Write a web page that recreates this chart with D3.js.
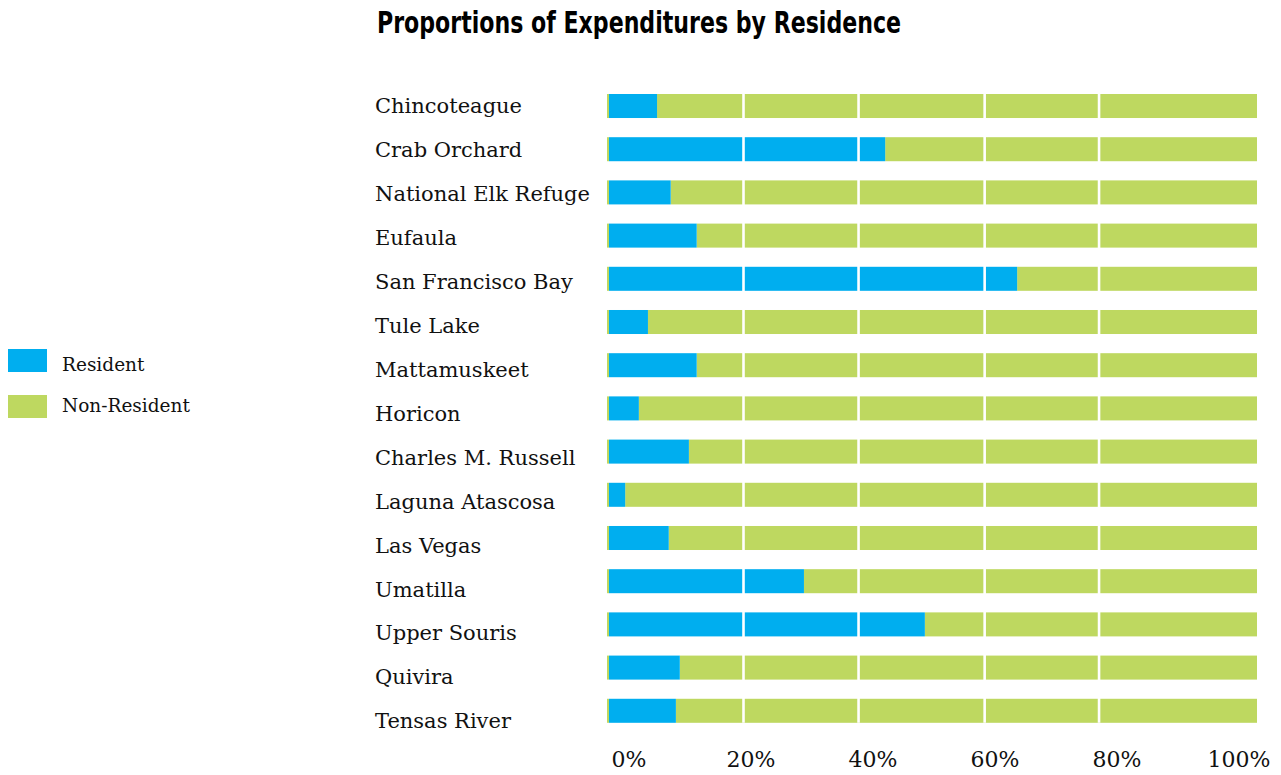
<!DOCTYPE html>
<html>
<head>
<meta charset="utf-8">
<script src="https://cdn.jsdelivr.net/npm/d3@7"></script>
<style>
  body { margin: 0; background: #fff; }
</style>
</head>
<body>
<div id="chart"></div>
<script>
const width = 1281;
const height = 775;

const refuges = ["Chincoteague", "Crab Orchard", "National Elk Refuge", "Eufaula", "San Francisco Bay",
    "Tule Lake", "Mattamuskeet", "Horicon", "Charles M. Russell", "Laguna Atascosa",
    "Las Vegas", "Umatilla", "Upper Souris", "Quivira", "Tensas River"];
// share of resident expenditures, percent
const resident = [7.7, 42.8, 9.8, 13.8, 63.1, 6.3, 13.8, 4.9, 12.6, 2.8, 9.5, 30.3, 48.9, 11.2, 10.6];
const nonResident = resident.map(d => 100 - d);
const tickValues = [0, 20, 40, 60, 80, 100];
const gridValues = [21.0, 38.7, 58.1, 75.7];
const legendItems = ["Resident", "Non-Resident"];

const blue = "#00aeef";
const green = "#bed860";
const serif = "'DejaVu Serif', 'Liberation Serif', serif";

const svg = d3.select("#chart")
    .append("svg")
    .attr("width", width)
    .attr("height", height);

// title
svg.append("text")
    .attr("x", 377)
    .attr("y", 33)
    .attr("textLength", 524)
    .attr("lengthAdjust", "spacingAndGlyphs")
    .attr("font-family", "'Liberation Sans Narrow', 'DejaVu Sans Condensed', 'Liberation Sans', sans-serif")
    .attr("font-weight", "bold")
    .attr("font-size", 31)
    .attr("fill", "#000")
    .text("Proportions of Expenditures by Residence");

const x = d3.scaleLinear().domain([0, 100]).range([607, 1257]);
const y = d3.scaleBand().domain(refuges).range([94, 722.8]).paddingInner(0.444).paddingOuter(0);
const labelY = d3.scalePoint().domain(refuges).range([106, 721]);
const labelX = d3.scaleLinear().domain([0, 100]).range([629, 1239]);

const rows = refuges.map((name, i) => ({ name, res: resident[i], non: nonResident[i] }));

// non-resident part
svg.selectAll(".non")
    .data(rows)
    .enter().append("rect")
    .attr("class", "non")
    .attr("x", d => x(d.res))
    .attr("width", d => x(100) - x(d.res))
    .attr("y", d => y(d.name))
    .attr("height", y.bandwidth())
    .attr("fill", green);

// thin green edge at the start of every bar
svg.selectAll(".edge")
    .data(rows)
    .enter().append("rect")
    .attr("class", "edge")
    .attr("x", x(0))
    .attr("width", 2)
    .attr("y", d => y(d.name))
    .attr("height", y.bandwidth())
    .attr("fill", green);

svg.selectAll(".res")
    .data(rows)
    .enter().append("rect")
    .attr("class", "res")
    .attr("x", x(0) + 2)
    .attr("width", d => x(d.res) - x(0) - 2)
    .attr("y", d => y(d.name))
    .attr("height", y.bandwidth())
    .attr("fill", blue);

// white grid lines
svg.selectAll(".grid")
    .data(gridValues)
    .enter().append("line")
    .attr("class", "grid")
    .attr("x1", d => x(d))
    .attr("x2", d => x(d))
    .attr("y1", y.range()[0])
    .attr("y2", y.range()[1])
    .attr("stroke", "#fff")
    .attr("stroke-width", 2.6);

// category labels
svg.selectAll(".cat")
    .data(refuges)
    .enter().append("text")
    .attr("class", "cat")
    .attr("x", 375)
    .attr("y", d => labelY(d))
    .attr("dy", "0.35em")
    .attr("font-family", serif)
    .attr("font-size", 21)
    .attr("fill", "#111")
    .text(d => d);

// tick labels
svg.selectAll(".tick-label")
    .data(tickValues)
    .enter().append("text")
    .attr("class", "tick-label")
    .attr("x", d => labelX(d))
    .attr("y", 767)
    .attr("text-anchor", "middle")
    .attr("font-family", serif)
    .attr("font-size", 22)
    .attr("fill", "#111")
    .text(d => d + "%");

// legend
svg.selectAll(".legend-box")
    .data(legendItems)
    .enter().append("rect")
    .attr("class", "legend-box")
    .attr("x", 8)
    .attr("y", (d, i) => 349 + i * 46)
    .attr("width", 39)
    .attr("height", 23)
    .attr("fill", (d, i) => i === 0 ? blue : green);

svg.selectAll(".legend-label")
    .data(legendItems)
    .enter().append("text")
    .attr("class", "legend-label")
    .attr("x", 62)
    .attr("y", (d, i) => 371 + i * 41)
    .attr("font-family", serif)
    .attr("font-size", 18.5)
    .attr("fill", "#111")
    .text(d => d);
</script>
</body>
</html>
